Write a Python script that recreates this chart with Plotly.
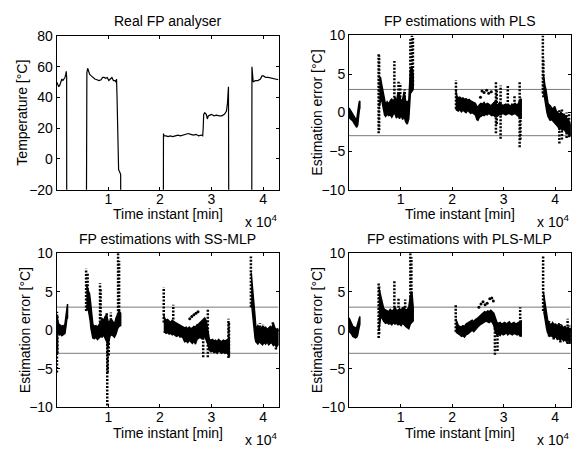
import plotly.graph_objects as go

W, H = 579, 452
FONT = "Liberation Sans, Arial, Helvetica, sans-serif"
FS = 14

# ---------------- data ----------------
x_range = [0, 43000]
x_tickvals = [10000, 20000, 30000, 40000]
x_ticktext = ["1", "2", "3", "4"]
temp_ticks = [-20, 0, 20, 40, 60, 80]
err_ticks = [-10, -5, 0, 5, 10]
thresholds = [3, -3]

titles = ["Real FP analyser", "FP estimations with PLS",
          "FP estimations with SS-MLP", "FP estimations with PLS-MLP"]

# Real FP analyser temperature (off-scale readings during gaps)
temp_t = [0, 200, 400, 600, 800, 1000, 1200, 1400, 1600, 1750, 1850, 1930,
          1945, 5700,
          5720, 5850, 6000, 6150, 6400, 6700, 7000, 7400, 7800, 8200, 8600, 8900,
          9200, 9500, 9800, 10100, 10400, 10700, 11000, 11300, 11500, 11600,
          11700, 11800, 11900, 12000, 12150, 12300, 12400,
          12450, 20650,
          20700, 20800, 21200, 21600, 22000, 22500, 23000, 23500, 24000, 24500,
          25000, 25500, 26000, 26500, 27000, 27500, 28000, 28300, 28400, 28500,
          28700, 29000, 29200, 29400, 29700, 30000, 30500, 31000, 31500, 32000,
          32500, 32900, 33100, 33300,
          33400, 37800,
          37850, 37950, 38100, 38500, 39000, 39500, 39800, 40100, 40500, 41000,
          41500, 42000, 42500, 43000]
temp_v = [50, 48, 47, 48, 50, 52, 51, 52, 53, 55, 57, 53,
          -100, -100,
          52, 56, 59, 57, 55, 54, 53, 52, 51.5, 51, 51.5, 53,
          53, 52.5, 53, 51, 52, 53, 51, 51, 50, 52,
          40, 15, 0, -7, -8, -9, -10,
          -100, -100,
          16.5, 15, 15, 14.5, 15, 14.5, 15, 15.5, 15, 15.5,
          15.5, 16.5, 16, 15.5, 16, 15, 15.5, 15, 20, 29,
          30, 29, 26, 28, 28.5, 29, 28, 28.5, 28, 28,
          29, 31, 36, 47,
          -100, -100,
          60, 52, 50, 51, 51, 52, 54, 54, 53, 53,
          52.5, 52, 51.5, 51.5]

# ---- PLS estimation error: band envelopes per segment ----
pls_t1 = [0, 250, 500, 750, 1000, 1250, 1500, 1700, 1850, 2000, 2100]
pls_lo1 = [-0.6, -0.8, -1.0, -1.1, -1.4, -1.7, -1.9, -1.6, -0.6, 0.3, 0.6]
pls_hi1 = [0.6, 0.3, 0.0, -0.2, -0.5, -0.8, -0.9, -0.2, 0.8, 1.4, 1.5]
pls_t2 = [5900, 6100, 6300, 6500, 6700, 6900, 7100, 7400, 7700, 8000, 8300, 8600, 8900,
          9200, 9500, 9800, 10100, 10400, 10700, 11000, 11300, 11600, 11900, 12200, 12450]
pls_lo2 = [0.8, 1.5, 1.8, 1.4, 0.4, -0.3, -0.5, -0.2, -0.4, -0.3, -0.6, -0.2, -0.1,
           -0.7, -0.4, -0.8, -0.3, -0.9, -0.5, -1.2, -1.5, -0.8, 2.5, 2.8, 3.0]
pls_hi2 = [4.2, 4.6, 3.8, 3.0, 2.2, 1.3, 1.0, 1.4, 1.1, 1.5, 1.8, 1.2, 2.0,
           1.4, 2.6, 2.4, 1.4, 1.7, 2.7, 1.5, 1.3, 1.6, 5.5, 6.0, 5.0]
pls_t3 = [20700, 20900, 21200, 21500, 21800, 22100, 22400, 22700, 23000, 23300, 23600,
          23900, 24200, 24500, 24800, 25000, 25300, 25600, 25900, 26200, 26500, 26800,
          27100, 27400, 27700, 28000, 28300, 28600, 28900, 29200, 29500, 29800, 30100,
          30400, 30700, 31000, 31300, 31600, 31900, 32200, 32500, 32800, 33100, 33400]
pls_lo3 = [0.5, 0.3, 0.2, 0.4, 0.1, 0.3, 0.2, 0.0, 0.3, 0.1, -0.1, 0.0, -0.2, -0.3,
           -0.9, -1.0, -0.6, -0.5, -0.3, -0.4, -0.2, -0.3, -0.1, -0.2, -0.4, -0.3, -0.5,
           -0.3, -0.4, -0.2, -0.3, -0.1, -0.2, -0.3, -0.2, -0.1, -0.2, -0.3, -0.2, -0.1,
           -0.3, -0.4, -0.6, -0.8]
pls_hi3 = [3.0, 2.2, 1.9, 2.0, 1.8, 1.9, 1.7, 1.8, 1.6, 1.7, 1.5, 1.4, 1.3, 1.2, 0.8,
           0.7, 1.0, 1.2, 1.1, 1.3, 1.0, 1.2, 1.1, 0.9, 1.0, 1.2, 1.4, 1.1, 1.0, 1.3,
           1.1, 0.9, 1.0, 1.1, 0.9, 1.0, 0.8, 1.1, 0.9, 1.2, 1.0, 1.1, 1.5, 1.8]
pls_t4 = [37700, 37850, 38000, 38200, 38400, 38600, 38800, 39000, 39300, 39600, 39900,
          40200, 40500, 40800, 41100, 41400, 41700, 42000, 42300, 42600, 42900, 43000]
pls_lo4 = [2.5, 2.3, 2.0, 1.0, 0.0, -0.5, -0.8, -1.0, -0.9, -1.1, -1.3, -1.6, -1.8,
           -2.2, -2.0, -2.3, -2.1, -2.5, -2.6, -2.8, -3.0, -3.0]
pls_hi4 = [5.0, 4.0, 3.5, 3.0, 1.8, 1.2, 1.0, 0.9, 0.6, 0.5, 0.8, 0.2, 0.0, -0.3, 0.1,
           -0.4, -0.2, -0.6, -0.8, -1.0, -1.5, -1.6]
pls_spike_t = [5750, 5850, 8800, 9600, 9950, 10800, 11900, 12200, 12400, 20750, 28500,
               28650, 29400, 30800, 32100, 33100, 33250, 37600, 37700, 40800, 41300,
               42200, 42700]
pls_spike_lo = [-2.7, -2.3, 1.0, 1.5, 1.5, 1.5, 2.5, 3.0, 3.5, 0.5, -2.7, -1.5, -3.4,
                0.0, 0.5, -4.5, -3.5, 2.5, 2.0, -4.0, -3.5, -3.3, -3.2]
pls_spike_hi = [7.7, 7.4, 6.7, 4.0, 3.8, 3.0, 9.5, 10.0, 9.8, 4.2, 4.0, 3.0, 3.5, 3.5,
                2.2, 4.0, 2.0, 10.0, 7.0, 0.3, 0.5, 0.0, -0.2]
pls_pt_t = [25500, 25800, 26200, 26700, 27100, 27600]
pls_pt_v = [2.0, 2.8, 2.6, 2.9, 2.5, 2.7]

# ---- SS-MLP estimation error ----
ss_t1 = [0, 200, 400, 600, 800, 1000, 1200, 1400, 1600, 1800, 1950, 2100]
ss_lo1 = [-0.3, -0.5, -0.3, -0.6, -0.5, -0.7, -0.6, -0.5, -0.4, 0.5, 1.4, 1.6]
ss_hi1 = [1.5, 1.0, 0.8, 0.7, 0.6, 0.5, 0.6, 0.4, 0.8, 2.2, 3.2, 3.4]
ss_t2 = [5750, 5900, 6050, 6200, 6350, 6500, 6650, 6800, 7000, 7300, 7600, 7900, 8200,
         8500, 8800, 9100, 9400, 9700, 10000, 10300, 10600, 10900, 11200, 11500, 11800,
         12100, 12400]
ss_lo2 = [2.5, 2.8, 3.0, 2.5, 2.0, 1.2, 0.2, -0.5, -1.0, -1.1, -0.9, -1.2, -1.0, -0.8,
          -0.9, -0.6, -1.0, -1.5, -2.0, -0.8, -0.6, -0.7, -0.9, -0.5, 0.2, 0.5, 0.6]
ss_hi2 = [6.0, 5.5, 5.3, 5.0, 4.8, 4.0, 3.0, 1.5, 0.8, 0.5, 0.6, 0.4, 0.7, 1.0, 1.5,
          1.3, 1.8, 2.0, 1.0, 1.2, 1.4, 1.1, 0.8, 1.6, 2.0, 2.5, 2.2]
ss_t3 = [20750, 20900, 21200, 21500, 21800, 22100, 22400, 22700, 23000, 23300, 23600,
         23900, 24200, 24500, 24800, 25100, 25400, 25700, 26000, 26300, 26600, 26900,
         27200, 27500, 27800, 28100, 28400, 28700, 29000, 29300, 29600, 29900, 30200,
         30500, 30800, 31100, 31400, 31700, 32000, 32300, 32600, 32900, 33200, 33450]
ss_lo3 = [-0.3, -0.2, -0.4, -0.3, -0.5, -0.4, -0.6, -0.5, -0.7, -0.8, -0.6, -0.9, -0.8,
          -1.0, -1.5, -1.4, -1.6, -1.3, -1.5, -1.7, -1.4, -1.8, -1.2, -1.0, -0.9, -1.1,
          -1.0, -0.8, -1.2, -1.8, -2.6, -2.8, -2.7, -2.9, -2.8, -3.0, -2.7, -2.9, -3.0,
          -2.8, -3.0, -2.9, -3.1, -3.2]
ss_hi3 = [2.0, 1.6, 1.3, 1.4, 1.2, 1.0, 1.3, 1.1, 1.0, 0.9, 0.8, 0.7, 0.6, 0.5, 0.3,
          0.4, 0.2, 0.4, 0.2, 0.3, 0.5, 0.4, 0.7, 0.8, 1.0, 1.3, 1.5, 1.6, 1.2, 0.0,
          -1.2, -1.3, -1.2, -1.4, -1.3, -1.5, -1.2, -1.4, -1.5, -1.3, -1.4, -1.3, -1.2,
          -1.0]
ss_t4 = [37700, 37850, 38000, 38150, 38300, 38450, 38600, 38800, 39000, 39300, 39600,
         39900, 40200, 40500, 40800, 41100, 41400, 41700, 42000, 42300, 42600, 42900,
         43000]
ss_lo4 = [3.5, 3.0, 2.5, 1.5, 0.0, -1.0, -1.5, -1.6, -1.8, -1.5, -1.7, -1.9, -1.6,
          -1.8, -1.5, -1.9, -1.7, -1.6, -2.0, -1.8, -2.2, -1.9, -2.0]
ss_hi4 = [7.5, 6.5, 5.5, 4.5, 3.5, 1.8, 0.5, 0.3, 0.6, 0.4, 0.2, 0.5, 0.3, 0.4, 0.1,
          0.3, 0.5, 0.2, 0.9, 0.3, 0.1, 0.2, 0.0]
ss_spike_t = [50, 150, 5700, 6000, 8400, 8500, 9800, 9900, 10100, 11900, 12100, 9700,
              10500, 20750, 22600, 28400, 29300, 33300, 33400, 37650, 39400, 40000,
              41900, 42500]
ss_spike_lo = [-5.5, -3.0, 2.5, 3.0, 1.0, 0.5, -9.8, -5.5, -3.3, 2.0, 2.5, 1.5, 1.3,
               1.0, 0.5, -3.5, -3.5, -3.6, -3.4, 3.0, -1.0, -1.5, -1.5, -2.5]
ss_spike_hi = [2.4, 2.0, 8.0, 7.5, 6.1, 5.5, -1.5, -1.0, -1.5, 10.0, 9.0, 2.4, 2.3,
               5.6, 3.3, -0.5, 2.8, 1.5, 1.0, 9.6, 0.9, 0.8, 1.2, 0.0]
ss_pt_t = [25800, 26200, 26600, 27000, 27400]
ss_pt_v = [1.5, 1.8, 2.0, 2.2, 2.4]

# ---- PLS-MLP estimation error ----
pm_t1 = [0, 250, 500, 750, 1000, 1250, 1500, 1700, 1850, 2000, 2100]
pm_lo1 = [-0.1, -0.3, -0.5, -0.8, -0.9, -1.0, -0.9, -0.6, 0.0, 0.6, 0.8]
pm_hi1 = [1.6, 1.2, 0.8, 0.5, 0.4, 0.3, 0.4, 0.9, 1.4, 1.8, 1.8]
pm_t2 = [5800, 5950, 6100, 6250, 6400, 6550, 6700, 6900, 7100, 7400, 7700, 8000, 8300,
         8600, 8900, 9200, 9500, 9800, 10100, 10400, 10700, 11000, 11300, 11600, 11900,
         12200, 12450]
pm_lo2 = [0.0, 1.0, 1.5, 1.8, 1.6, 1.4, 1.2, 1.0, 0.9, 1.0, 0.8, 0.9, 0.7, 1.0, 0.8,
          0.9, 0.7, 0.8, 0.6, 0.9, 0.7, 0.5, 0.3, 0.2, 0.8, 1.0, 1.2]
pm_hi2 = [5.5, 5.0, 4.5, 4.0, 3.6, 3.2, 2.9, 2.7, 2.6, 2.5, 2.4, 2.7, 2.5, 2.6, 3.0,
          2.6, 2.5, 2.8, 2.6, 2.9, 3.0, 2.6, 2.7, 3.0, 4.5, 5.0, 3.0]
pm_t3 = [20700, 20900, 21200, 21500, 21800, 22100, 22400, 22700, 23000, 23300, 23600,
         23900, 24200, 24500, 24800, 25100, 25400, 25700, 26000, 26300, 26600, 26900,
         27200, 27500, 27800, 28100, 28400, 28700, 29000, 29300, 29600, 29900, 30200,
         30500, 30800, 31100, 31400, 31700, 32000, 32300, 32600, 32900, 33200, 33400]
pm_lo3 = [-0.2, -0.3, -0.5, -0.6, -0.8, -0.7, -0.9, -0.6, -0.5, -0.3, -0.2, 0.0, -0.2,
          0.1, 0.3, 0.5, 0.7, 0.9, 1.0, 1.1, 1.2, 1.1, 1.0, 1.2, 1.0, 0.6, -0.3, -0.6,
          -0.5, -0.7, -0.4, -0.6, -0.5, -0.3, -0.6, -0.4, -0.5, -0.6, -0.4, -0.5, -0.6,
          -0.5, -0.7, -0.8]
pm_hi3 = [1.5, 1.0, 0.6, 0.5, 0.4, 0.6, 0.5, 0.8, 0.9, 1.0, 1.2, 1.3, 1.1, 1.4, 1.5,
          1.7, 1.9, 2.1, 2.3, 2.4, 2.3, 2.5, 2.4, 2.6, 2.4, 2.2, 1.6, 1.0, 0.9, 1.0,
          0.8, 0.9, 1.0, 0.8, 0.9, 1.1, 0.8, 0.9, 1.0, 0.8, 0.9, 1.0, 1.1, 1.2]
pm_t4 = [37700, 37850, 38000, 38150, 38300, 38500, 38700, 38900, 39200, 39500, 39800,
         40100, 40400, 40700, 41000, 41300, 41600, 41900, 42200, 42500, 42800, 43000]
pm_lo4 = [2.3, 2.2, 1.8, 1.0, 0.3, -0.3, -0.6, -0.8, -0.7, -0.9, -1.0, -0.8, -1.2,
          -1.1, -1.3, -1.0, -1.4, -1.2, -1.5, -1.3, -1.6, -1.5]
pm_hi4 = [5.0, 4.2, 3.5, 2.8, 2.0, 1.4, 1.0, 0.9, 0.7, 1.0, 0.6, 0.8, 0.5, 0.9, 0.4,
          0.6, 0.3, 0.5, 0.2, 0.4, 0.1, 0.3]
pm_spike_t = [5750, 5850, 8800, 9600, 10500, 10900, 11900, 12100, 20700, 28300, 28800,
              33200, 37650, 38800, 39700, 41000, 42400, 42900]
pm_spike_lo = [-1.0, -0.5, 2.0, 2.0, 2.0, 2.0, 2.0, 2.5, -0.2, -3.2, -2.7, -0.8, 2.5,
               -0.8, -1.2, -1.6, -1.8, -1.8]
pm_spike_hi = [6.2, 5.8, 6.4, 4.3, 3.0, 4.0, 10.0, 9.5, 3.3, 1.0, 0.5, 3.0, 9.7, 1.2,
               1.0, 0.8, 1.5, 0.6]
pm_pt_t = [25200, 25600, 26000, 26400, 26800, 27300, 27700, 28000]
pm_pt_v = [3.0, 3.4, 3.7, 3.3, 3.5, 4.1, 4.2, 3.8]

# ---------------- figure ----------------
fig = go.Figure()

domains = {
    1: ([56.7 / W, 278.5 / W], [1 - 188.3 / H, 1 - 29.0 / H]),
    2: ([349.0 / W, 570.7 / W], [1 - 188.3 / H, 1 - 28.5 / H]),
    3: ([56.7 / W, 278.5 / W], [1 - 413.8 / H, 1 - 254.3 / H]),
    4: ([349.0 / W, 570.7 / W], [1 - 413.8 / H, 1 - 254.3 / H]),
}


def band_xy(seg_list):
    xs, ys = [], []
    for ts, los, his in seg_list:
        xs += list(ts) + list(reversed(ts)) + [None]
        ys += list(his) + list(reversed(los)) + [None]
    return xs, ys


def spike_xy(ts, los, his):
    xs, ys = [], []
    for t, lo, hi in zip(ts, los, his):
        xs += [t, t, None]
        ys += [lo, hi, None]
    return xs, ys


def axref(i):
    return ("x" if i == 1 else f"x{i}"), ("y" if i == 1 else f"y{i}")


# threshold lines (drawn first, under the data)
for i in (2, 3, 4):
    xr, yr = axref(i)
    for th in thresholds:
        fig.add_trace(go.Scatter(x=x_range, y=[th, th], mode="lines",
                                 line=dict(color="#7a7a7a", width=1),
                                 xaxis=xr, yaxis=yr, hoverinfo="skip", showlegend=False))

# temperature
fig.add_trace(go.Scatter(x=temp_t, y=temp_v, mode="lines",
                         line=dict(color="black", width=1.2),
                         xaxis="x", yaxis="y", showlegend=False))

panels = {
    2: ([(pls_t1, pls_lo1, pls_hi1), (pls_t2, pls_lo2, pls_hi2),
         (pls_t3, pls_lo3, pls_hi3), (pls_t4, pls_lo4, pls_hi4)],
        (pls_spike_t, pls_spike_lo, pls_spike_hi), (pls_pt_t, pls_pt_v)),
    3: ([(ss_t1, ss_lo1, ss_hi1), (ss_t2, ss_lo2, ss_hi2),
         (ss_t3, ss_lo3, ss_hi3), (ss_t4, ss_lo4, ss_hi4)],
        (ss_spike_t, ss_spike_lo, ss_spike_hi), (ss_pt_t, ss_pt_v)),
    4: ([(pm_t1, pm_lo1, pm_hi1), (pm_t2, pm_lo2, pm_hi2),
         (pm_t3, pm_lo3, pm_hi3), (pm_t4, pm_lo4, pm_hi4)],
        (pm_spike_t, pm_spike_lo, pm_spike_hi), (pm_pt_t, pm_pt_v)),
}

for i, (segs, spikes, pts) in panels.items():
    xr, yr = axref(i)
    bx, by = band_xy(segs)
    fig.add_trace(go.Scatter(x=bx, y=by, mode="lines", fill="toself",
                             fillcolor="black", line=dict(color="black", width=1.5),
                             xaxis=xr, yaxis=yr, showlegend=False, hoverinfo="skip"))
    sx, sy = spike_xy(*spikes)
    fig.add_trace(go.Scatter(x=sx, y=sy, mode="lines",
                             line=dict(color="black", width=2.5, dash="2px,1.5px"),
                             xaxis=xr, yaxis=yr, showlegend=False, hoverinfo="skip"))
    fig.add_trace(go.Scatter(x=pts[0], y=pts[1], mode="markers",
                             marker=dict(color="black", size=3),
                             xaxis=xr, yaxis=yr, showlegend=False, hoverinfo="skip"))

axis_common = dict(showline=True, linecolor="black", linewidth=1, mirror="ticks",
                   ticks="inside", ticklen=3, tickcolor="black", showgrid=False,
                   zeroline=False, tickfont=dict(family=FONT, size=FS, color="black"))

layout_axes = {}
for i in (1, 2, 3, 4):
    xd, yd = domains[i]
    xk = "xaxis" if i == 1 else f"xaxis{i}"
    yk = "yaxis" if i == 1 else f"yaxis{i}"
    xr, yr = axref(i)
    layout_axes[xk] = dict(axis_common, domain=xd, range=x_range, anchor=yr,
                           tickvals=x_tickvals, ticktext=x_ticktext,
                           ticklabelstandoff=-3)
    if i == 1:
        layout_axes[yk] = dict(axis_common, domain=yd, range=[-20, 80], anchor=xr,
                               tickvals=temp_ticks)
    else:
        layout_axes[yk] = dict(axis_common, domain=yd, range=[-10, 10], anchor=xr,
                               tickvals=err_ticks)

ann = []


def txt(text, px, py, size=FS, angle=0, xanchor="center", yanchor="middle"):
    ann.append(dict(text=text, x=px / W, y=1 - py / H, xref="paper", yref="paper",
                    showarrow=False, textangle=angle, xanchor=xanchor, yanchor=yanchor,
                    font=dict(family=FONT, size=size, color="black")))


centers = {1: 167.6, 2: 459.9, 3: 167.6, 4: 459.9}
for i, title in zip((1, 2, 3, 4), titles):
    top = i in (1, 2)
    cx = centers[i]
    txt(title, cx, 13 if top else 239)
    txt("Time instant [min]", cx, 214 if top else 440.5)
    right = 279 if i in (1, 3) else 571
    txt("x 10<sup>4</sup>", right, 221 if top else 446.5, xanchor="right")

txt("Temperature [°C]", 22, 108.5, angle=-90)
txt("Estimation error [°C]", 317, 108.5, angle=-90)
txt("Estimation error [°C]", 25, 334, angle=-90)
txt("Estimation error [°C]", 317, 334, angle=-90)

fig.update_layout(width=W, height=H, margin=dict(l=0, r=0, t=0, b=0),
                  paper_bgcolor="white", plot_bgcolor="white",
                  font=dict(family=FONT, size=FS, color="black"),
                  annotations=ann, showlegend=False, **layout_axes)

fig.write_html("out.html", config={"displayModeBar": False},
               post_script="document.body.style.margin='0';document.body.style.overflow='hidden';")
